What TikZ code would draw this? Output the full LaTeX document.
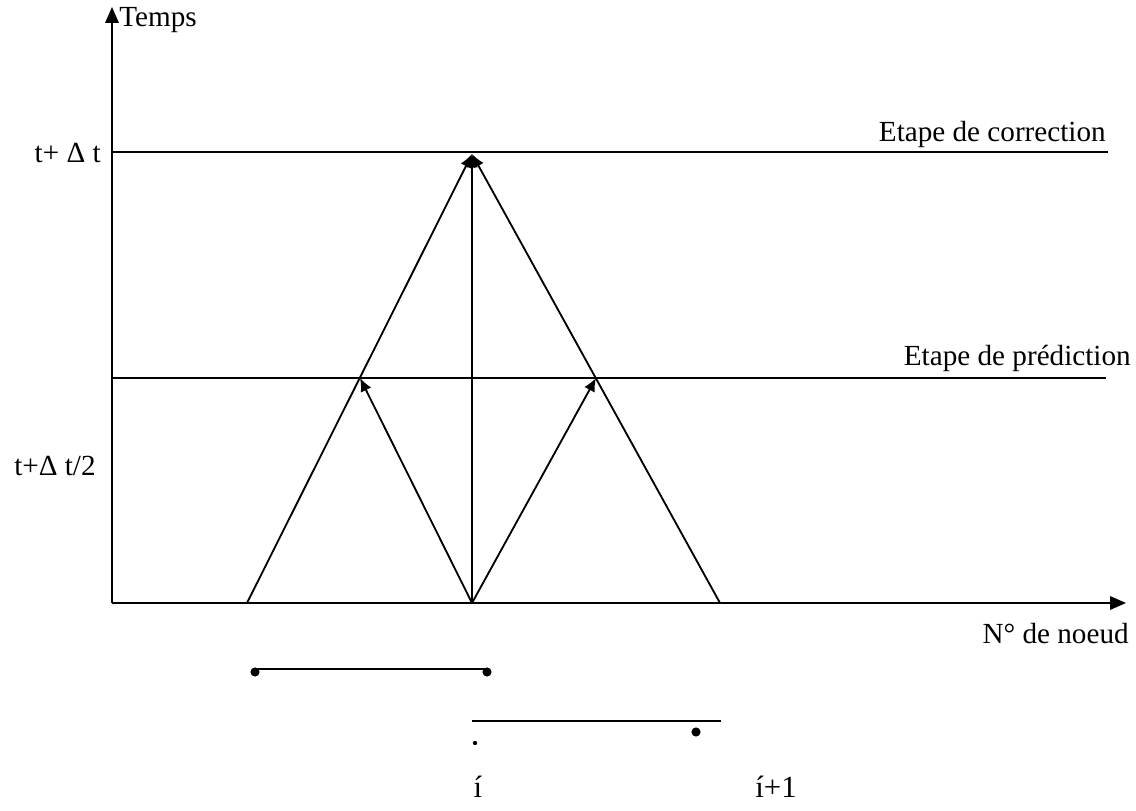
\documentclass[tikz,border=0pt]{standalone}
\usepackage{fontspec}
\setmainfont{Liberation Serif}
\usetikzlibrary{arrows.meta}
\tikzset{
  axe/.style={line width=1.1pt,-{Triangle[length=9.5pt,width=8pt]}},
  trait/.style={line width=1.1pt},
  fleche/.style={line width=1.1pt,-{Latex[length=8pt,width=7pt]}},
  etiq/.style={font=\fontsize{17.5}{20}\selectfont,inner sep=0pt},
  etiqG/.style={font=\fontsize{18.5}{21}\selectfont,inner sep=0pt},
  gpoint/.style={circle,fill,inner sep=0pt,minimum size=5.5pt},
  ppoint/.style={circle,fill,inner sep=0pt,minimum size=2.6pt},
}
\begin{document}
\begin{tikzpicture}[x=0.6pt,y=0.6pt]
\useasboundingbox (0,0) rectangle (1136,810);
% reperes
\coordinate (O) at (112,207);
\coordinate (Ty) at (112,803);
\coordinate (Tx) at (1126,207);
\coordinate (C0) at (112,658);
\coordinate (C1) at (1108,658);
\coordinate (P0) at (112,432);
\coordinate (P1) at (1106,432);
\coordinate (A) at (247,207);
\coordinate (I) at (472,207);
\coordinate (B) at (720,207);
\coordinate (S) at (472,656);
\coordinate (L) at (360,432);
\coordinate (R) at (596,432);
% axes et niveaux de temps
\draw[axe] (O) -- (Ty);
\draw[axe] (O) -- (Tx);
\draw[trait] (C0) -- (C1);
\draw[trait] (P0) -- (P1);
\node[etiq,anchor=west] (temps) at (119,790) {Temps};
\node[etiq,anchor=east] (corr) at (1106,676) {Etape de correction};
\node[etiq,anchor=east] (pred) at (1131,452) {Etape de prédiction};
\node[etiq,anchor=east] (tdt) at (101,657) {t+ Δ t};
\node[etiq,anchor=east] (tdt2) at (96,344) {t+Δ t/2};
\node[etiq,anchor=east] (noeud) at (1129,176) {N° de noeud};
% predicteur puis correcteur
\draw[fleche] (I) -- (L);
\draw[fleche] (I) -- (R);
\draw[fleche] (A) -- (S);
\draw[fleche] (B) -- (S);
\draw[fleche] (I) -- (S);
% segments sous l'axe
\coordinate (s0) at (255,141);
\coordinate (s1) at (486,141);
\draw[trait,line width=0.8pt] (s0) -- (s1);
\node[gpoint] (g1) at (255,138) {};
\node[gpoint] (g2) at (487,138) {};
\coordinate (d0) at (472,89);
\coordinate (d1) at (721,89);
\draw[trait] (d0) -- (d1);
\node[ppoint] (p1) at (475,67) {};
\node[gpoint] (p2) at (696,78) {};
\node[etiqG] (ni) at (478,23) {í};
\node[etiqG] (ni1) at (776,23) {í+1};
\end{tikzpicture}
\end{document}
